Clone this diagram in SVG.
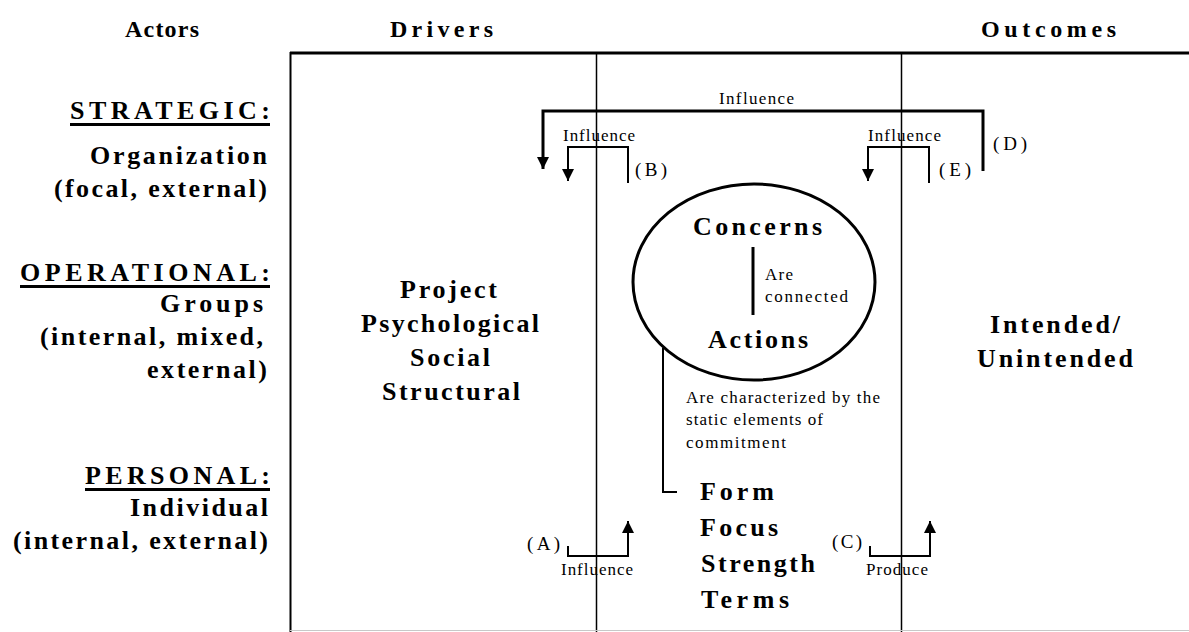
<svg xmlns="http://www.w3.org/2000/svg" width="1189" height="632" viewBox="0 0 1189 632">
<defs>
<style>
.b{font-family:"Liberation Serif","Times New Roman",serif;font-weight:bold;font-size:26px;fill:#000}
.h{font-family:"Liberation Serif","Times New Roman",serif;font-weight:bold;font-size:24px;fill:#000}
.s{font-family:"Liberation Serif","Times New Roman",serif;font-size:17px;fill:#000}
.p{font-family:"Liberation Serif","Times New Roman",serif;font-size:19px;fill:#000}
.ln{stroke:#000;fill:none}
</style>
<marker id="ah" markerUnits="userSpaceOnUse" viewBox="0 0 12 12" refX="12" refY="6" markerWidth="12" markerHeight="12" orient="auto">
<path d="M0,0 L12,6 L0,12 z" fill="#000"/>
</marker>
</defs>
<rect width="1189" height="632" fill="#fff"/>

<g id="frame">
<line class="ln" x1="290" y1="53" x2="1189" y2="53" stroke-width="3"/>
<line class="ln" x1="290.5" y1="52" x2="290.5" y2="632" stroke-width="2"/>
<line class="ln" x1="596.5" y1="53" x2="596.5" y2="632" stroke-width="1.5"/>
<line class="ln" x1="901.5" y1="53" x2="901.5" y2="632" stroke-width="1.5"/>
<line x1="290" y1="630.5" x2="1189" y2="630.5" stroke="#c8c8c8" stroke-width="1"/>
</g>

<g id="headers">
<text class="h" x="125" y="37" textLength="74" lengthAdjust="spacing">Actors</text>
<text class="h" x="390" y="37" textLength="103" lengthAdjust="spacing">Drivers</text>
<text class="h" x="981" y="37" textLength="135" lengthAdjust="spacing">Outcomes</text>
</g>

<g id="actor-strategic">
<text class="b" x="70" y="119" textLength="200" lengthAdjust="spacing">STRATEGIC:</text>
<rect x="70" y="123" width="200" height="3" fill="#000"/>
<text class="b" x="90" y="164" textLength="177" lengthAdjust="spacing">Organization</text>
<text class="b" x="54" y="197" textLength="213" lengthAdjust="spacing">(focal, external)</text>
</g>

<g id="actor-operational">
<text class="b" x="20" y="281" textLength="250" lengthAdjust="spacing">OPERATIONAL:</text>
<rect x="20" y="285" width="250" height="3" fill="#000"/>
<text class="b" x="160" y="312" textLength="103" lengthAdjust="spacing">Groups</text>
<text class="b" x="40" y="345" textLength="223" lengthAdjust="spacing">(internal, mixed,</text>
<text class="b" x="147" y="378" textLength="120" lengthAdjust="spacing">external)</text>
</g>

<g id="actor-personal">
<text class="b" x="85" y="484" textLength="185" lengthAdjust="spacing">PERSONAL:</text>
<rect x="85" y="488" width="185" height="3" fill="#000"/>
<text class="b" x="130" y="516" textLength="138" lengthAdjust="spacing">Individual</text>
<text class="b" x="13" y="549" textLength="255" lengthAdjust="spacing">(internal, external)</text>
</g>

<g id="drivers">
<text class="b" x="400" y="298" textLength="97" lengthAdjust="spacing">Project</text>
<text class="b" x="361" y="332" textLength="178" lengthAdjust="spacing">Psychological</text>
<text class="b" x="410" y="366" textLength="80" lengthAdjust="spacing">Social</text>
<text class="b" x="382" y="400" textLength="138" lengthAdjust="spacing">Structural</text>
</g>

<g id="outcomes">
<text class="b" x="990" y="333" textLength="130" lengthAdjust="spacing">Intended/</text>
<text class="b" x="977" y="367" textLength="156" lengthAdjust="spacing">Unintended</text>
</g>

<g id="commitment">
<ellipse cx="754" cy="282" rx="121" ry="98" fill="none" stroke="#000" stroke-width="3"/>
<text class="b" x="693" y="235" textLength="129" lengthAdjust="spacing">Concerns</text>
<text class="b" x="708" y="348" textLength="100" lengthAdjust="spacing">Actions</text>
<line class="ln" x1="753" y1="247" x2="753" y2="315" stroke-width="3"/>
<text class="s" x="765" y="280" textLength="28" lengthAdjust="spacing">Are</text>
<text class="s" x="765" y="302" textLength="83" lengthAdjust="spacing">connected</text>
</g>

<g id="elements">
<text class="s" x="686" y="403" textLength="194" lengthAdjust="spacing">Are characterized by the</text>
<text class="s" x="686" y="425" textLength="137" lengthAdjust="spacing">static elements of</text>
<text class="s" x="686" y="448" textLength="100" lengthAdjust="spacing">commitment</text>
<text class="b" x="700" y="500" textLength="74" lengthAdjust="spacing">Form</text>
<text class="b" x="700" y="536" textLength="78" lengthAdjust="spacing">Focus</text>
<text class="b" x="701" y="572" textLength="114" lengthAdjust="spacing">Strength</text>
<text class="b" x="701" y="608" textLength="88" lengthAdjust="spacing">Terms</text>
</g>

<g id="connectors">
<path class="ln" d="M663 348 V492 H677" stroke-width="2"/>
<path class="ln" d="M983 171 V111 H543 V169" stroke-width="3" marker-end="url(#ah)"/>
<path class="ln" d="M628 183 V147 H568 V181" stroke-width="2" marker-end="url(#ah)"/>
<path class="ln" d="M929 183 V147 H868 V181" stroke-width="2" marker-end="url(#ah)"/>
<path class="ln" d="M568 546 V556 H628 V521" stroke-width="2" marker-end="url(#ah)"/>
<path class="ln" d="M870 546 V556 H930 V521" stroke-width="2" marker-end="url(#ah)"/>
</g>

<g id="connector-labels">
<text class="s" x="719" y="104" textLength="75" lengthAdjust="spacing">Influence</text>
<text class="s" x="563" y="141" textLength="72" lengthAdjust="spacing">Influence</text>
<text class="s" x="868" y="141" textLength="73" lengthAdjust="spacing">Influence</text>
<text class="s" x="561" y="575" textLength="72" lengthAdjust="spacing">Influence</text>
<text class="s" x="866" y="575" textLength="62" lengthAdjust="spacing">Produce</text>
<text class="p" x="993" y="150" textLength="34" lengthAdjust="spacing">(D)</text>
<text class="p" x="635" y="176" textLength="32" lengthAdjust="spacing">(B)</text>
<text class="p" x="939" y="176" textLength="32" lengthAdjust="spacing">(E)</text>
<text class="p" x="527" y="550" textLength="33" lengthAdjust="spacing">(A)</text>
<text class="p" x="832" y="548" textLength="30" lengthAdjust="spacing">(C)</text>
</g>
</svg>
